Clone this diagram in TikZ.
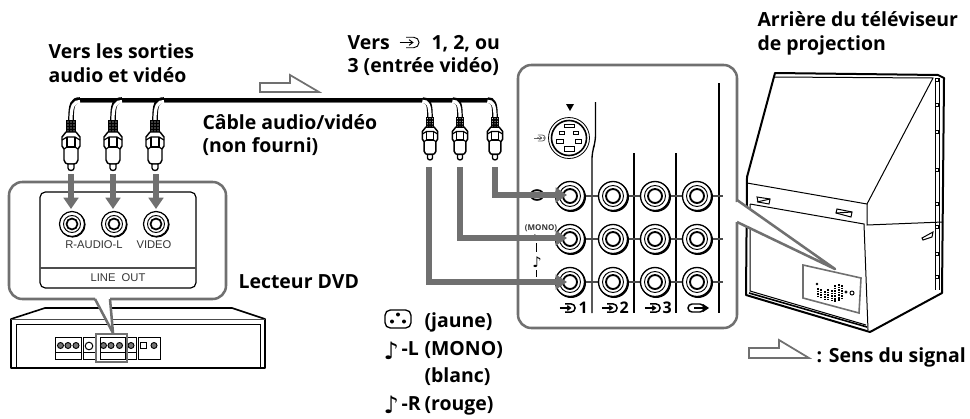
\documentclass[tikz,border=0pt]{standalone}
\usepackage{fontspec}
\setmainfont{Open Sans}
\newfontfamily\panelfont{Liberation Sans}
\newfontfamily\notefont{DejaVu Sans}
\usetikzlibrary{arrows.meta}

\definecolor{sigcol}{RGB}{112,112,112}
\tikzset{every picture/.style={line width=0.75pt}}
\tikzset{
  lbl/.style={font=\fontsize{14.6}{16}\selectfont\bfseries, inner sep=0pt, anchor=base west},
  notelbl/.style={font=\notefont\bfseries\fontsize{18}{20}\selectfont, inner sep=0pt, anchor=base west},
  paneltxt/.style={font=\panelfont\fontsize{8.4}{10}\selectfont, inner sep=0pt, text=black!80},
  tiny/.style={font=\fontsize{6}{7}\selectfont\bfseries, inner sep=0pt, text=black!80},
  numtxt/.style={font=\fontsize{12}{14}\selectfont\bfseries, inner sep=0pt, anchor=base west},
  callout/.style={draw=sigcol, line width=1.9pt, line join=round},
  sigflow/.style={draw=sigcol, line width=1.3pt, line join=miter},
  conn/.style={draw=sigcol, line width=4.4pt, -{Triangle[length=8.5pt,width=11pt]}, sigcol},
  pics/jack/.style={code={
    \fill (1,1) circle (15);
    \draw[fill=white, line width=1pt] (0,0) circle (14.5);
    \draw[line width=.7pt] (0,0) circle (10.5);
    \draw[line width=1.4pt] (0,0) circle (7);
  }},
  pics/smalljack/.style={code={
    \fill (.6,.6) circle (13);
    \draw[fill=white, line width=.9pt] (0,0) circle (12.5);
    \draw[line width=.7pt] (0,0) circle (8.5);
    \draw[line width=1.3pt] (0,0) circle (5.5);
  }},
  pics/inicon/.style={code={
    \draw (-4,-5.5) -- (4,-5.5) arc (-90:90:5.5) -- (-4,5.5);
    \draw (-11,0) -- (2,0);
    \draw (-1,-3) -- (3,0) -- (-1,3);
  }},
  pics/plug/.style={code={
    % cable
    \draw[line width=4.2pt] (9,0) .. controls (2,0) and (0,4) .. (0,20);
    \draw[white, line width=2.4pt] (9,1.5) .. controls (3,1.5) and (0,5) .. (0,20);
    % grip
    \fill (-5,20) rectangle (5,33);
    \foreach \gy in {22,25,28,31} {
      \fill[white] (-3,\gy) circle (.6) (0,\gy) circle (.6) (3,\gy) circle (.6);
    }
    % shoulder and body
    \draw[fill=white, line width=1.1pt, line join=round] (-5,32) -- (-9,37) -- (-9,46) -- (-7,49) -- (-7,60)
      .. controls (-7,63) and (-4,64) .. (-3,64) -- (3,64) .. controls (4,64) and (7,63) .. (7,60)
      -- (7,49) -- (9,46) -- (9,37) -- (5,32) -- cycle;
    \draw[line width=.9pt] (-9,40) -- (-4,37) -- (4,37) -- (9,40);
    \draw[line width=.9pt] (-4,37) -- (-4,47) -- (4,47) -- (4,37);
    \draw[line width=.9pt] (-7,49) -- (-4,47) (7,49) -- (4,47);
    \draw[fill=white, line width=1pt] (-3,64) -- (-3,68) arc (180:0:3 and 2.5) -- (3,64) -- cycle;
  }}
}

\begin{document}
\begin{tikzpicture}[x=0.75pt,y=0.75pt,yscale=-1,xscale=1]
\useasboundingbox (0,0) rectangle (970,418);

%Cable
\draw[sigcol, line width=.9pt] (78,102.5) -- (487,102.5);
\draw[line width=2.7pt] (76,100) -- (489,100);
\foreach \px in {71,113,155} {
  \pic[yscale=-1] at (\px,100) {plug};
}
\foreach \px in {430,460,495} {
  \pic[xscale=-.85,yscale=-.85] at (\px,100) {plug};
}

%Shape: signal arrow top
\draw[sigflow] (260,83) -- (290,83) -- (290,75) -- (319,92) -- (260,92) -- cycle;

%Callout DVD
\draw[callout, rounded corners=10] (95,299) -- (9,299) -- (9,182) -- (226,182) -- (226,299) -- (110,299);
\draw[line width=.9pt, rounded corners=4] (40,192) rectangle (196,288);
\draw[black!70, line width=1pt] (40,268) -- (196,268);
\foreach \jx in {72,114,156} {
  \pic[yscale=-1] at (\jx,224) {smalljack};
}
% Text Node
\node[paneltxt] (raudiol) at (94,245) {R-AUDIO-L};
\node[paneltxt] (videolbl) at (154,245) {VIDEO};
\node[paneltxt] (lineout) at (118,278) {LINE\ \ OUT};

%DVD player
\draw[line width=1.2pt, line join=round] (11,368) -- (11,319) -- (45,308) -- (232,308) -- (265,319) -- (265,368) -- cycle;
\draw[black!70] (11,319) -- (265,319);
\draw (16,368) -- (16,324) -- (260,324) -- (260,368);
\draw[fill=white] (55,337) rectangle (81,359);
\draw (55,352) -- (81,352);
\draw[fill=white] (83,337) rectangle (95,359);
\draw (83,352) -- (95,352);
\draw[fill=white] (100,337) rectangle (125,359);
\draw (100,352) -- (125,352);
\draw[fill=white] (127,337) rectangle (136,359);
\draw (127,352) -- (136,352);
\draw[fill=white] (138,337) rectangle (160,359);
\foreach \dx in {60.5,68,76,103.5,111,119.5,131,154} {
  \draw[fill=black!55, line width=.7pt] (\dx,345.5) circle (3);
}
\draw[fill=white] (89,346) circle (3.8);
\draw (140.5,342.5) rectangle (146.5,348.5);
\draw[callout, fill=white] (95,299) -- (113,333) -- (110,299);
\draw[draw=sigcol, line width=1.5pt] (95.5,334) rectangle (127,362);

%Connector DVD arrows
\coordinate (plugA) at (71,174);
\coordinate (plugB) at (113,174);
\coordinate (plugC) at (156,174);
\coordinate (dvdA) at (71,209);
\coordinate (dvdB) at (113,209);
\coordinate (dvdC) at (156,209);
\draw[conn] (plugA) -- (dvdA);
\draw[conn] (plugB) -- (dvdB);
\draw[conn] (plugC) -- (dvdC);

%Callout panel
\draw[callout, rounded corners=10] (737,202) -- (737,65) -- (518,65) -- (518,328) -- (737,328) -- (737,222);

%Panel lines
\draw[line width=1pt, rounded corners=5] (595.5,102) -- (595.5,142) -- (592,152) -- (592,313);
\draw[line width=1pt] (634,153) -- (634,313);
\draw[line width=1pt] (676,153) -- (676,313);
\draw[line width=1pt] (719,83) -- (719,313);
\foreach \ry in {196,239,282} {
  \draw[black!70, line width=.9pt] (585,\ry) -- (723,\ry);
}
\foreach \jy in {196,239,282} {
  \foreach \jx in {570,613,655,697} {
    \pic[yscale=-1] at (\jx,\jy) {jack};
  }
}

%S-video
\draw[line width=.6pt] (569,138) circle (20.5);
\draw[line width=1.2pt] (569,138) circle (17.5);
\draw[line width=.7pt] (564.5,124) rectangle (574,127);
\draw[line width=.7pt] (559,131) rectangle (564.5,134.5);
\draw[line width=.7pt] (573,131) rectangle (578.5,134.5);
\draw[line width=.7pt] (556.5,139) rectangle (563.5,143);
\draw[line width=.7pt] (575,139) rectangle (581.5,143);
\draw[line width=.7pt] (564,146) rectangle (574,151);
\fill (566,104) -- (574,104) -- (570,111) -- cycle;
\pic[black!60, yscale=-1, scale=.55, line width=.6pt] at (540,138) {inicon};
\fill[black!70] (538,138) circle (.8) (541,138) circle (.8) (544,138) circle (.8);

%Left of jacks
\draw[line width=1.2pt, fill=black!25] (537,195) ellipse (6.5 and 5);
\node[tiny] (mono) at (541,228) {(MONO)};
\node[tiny] (leftl) at (536,238) {L};
\node[tiny] (rightr) at (536,283) {R};
\node[font=\notefont\fontsize{11}{12}\selectfont, inner sep=0pt] (midnote) at (537,262) {♪};
\draw (536,243) -- (536,252) (536,270) -- (536,277);

%Connector panel arrows
\coordinate (plugD) at (495,167);
\coordinate (plugE) at (460,167);
\coordinate (plugF) at (429,167);
\coordinate (jackD) at (567,195);
\coordinate (jackE) at (567,238);
\coordinate (jackF) at (567,282);
\draw[conn] (plugD) |- (jackD);
\draw[conn] (plugE) |- (jackE);
\draw[conn] (plugF) |- (jackF);

%Bottom of panel
\pic[line width=1.1pt, scale=.75] at (568,308) {inicon};
\node[numtxt] (inA) at (578,313) {1};
\pic[line width=1.1pt, scale=.75] at (610,308) {inicon};
\node[numtxt] (inB) at (619,313) {2};
\pic[line width=1.1pt, scale=.75] at (653,308) {inicon};
\node[numtxt] (inC) at (662,313) {3};
\draw[line width=1.1pt] (692,304) -- (700,304) arc (-90:90:4) -- (692,312) arc (90:270:4);
\draw[line width=1.1pt] (694,308) -- (704,308);
\fill (703,304) -- (709,308) -- (703,312) -- cycle;

%TV
\draw[line width=1.5pt, line join=round] (775,73) -- (938,75) -- (944,78) -- (942,293) -- (870,332) -- (746,295) -- (747,177) -- cycle;
\draw (773,77) -- (933,78) -- (867,204) -- (747,183);
\draw (867,204) -- (867,225) -- (943,222);
\draw (750,204) -- (864,224) -- (868,330);
\draw (750,204) -- (750,291) -- (866,325);
\draw[line width=1.2pt] (749,293) -- (867,327);
\draw (935,78) -- (935,290);
\draw (939,78) -- (939,290);
\foreach \sy in {80,105,132,170,204,227,254,277} {
  \draw[fill=white, line width=.6pt] (935.5,\sy-1.5) rectangle (938.5,\sy+1.5);
}
\draw (757,197) -- (770,199) -- (769,204) -- (758,202) -- cycle;
\draw (757,202) -- (770,199);
\draw (837,209) -- (852,212) -- (851,217) -- (836,213) -- cycle;
\draw (836,213) -- (852,212);
\draw (922,238) -- (933,232) -- (932,237) -- (923,240) -- cycle;
\draw[draw=sigcol, line width=1.2pt] (803,265) -- (861,278) -- (859,313) -- (803,298) -- cycle;
\foreach \cx/\ya/\yb in {818/288/296,821/289/297,825/291/299,828/289/300,832/290/301,835/285/302,839/284/301,842/285/298} {
  \draw[line width=2pt, dash pattern=on 1.4pt off .5pt] (\cx,\ya) -- (\cx,\yb);
}
\fill (817,284) circle (1.4);
\draw[fill=black!40, line width=.5pt] (846,292) circle (1.2);
\draw[line width=.7pt] (852,293) circle (2);

%Callout to TV
\fill[white] (737,200) -- (835,269) -- (737,222) -- cycle;
\draw[callout] (737,200) -- (835,269) -- (737,222);

%Signal arrow bottom
\draw[sigflow] (749,348) -- (779,348) -- (779,340) -- (809,358) -- (749,358) -- cycle;

% Text Node
\node[lbl] (sorties) at (48,58) {Vers les sorties};
\node[lbl] (audiovideo) at (48,82) {audio et vidéo};
\node[lbl] (cable) at (202,129) {Câble audio/vidéo};
\node[lbl] (nonfourni) at (202,152) {(non fourni)};
\node[lbl] (vers) at (347,49) {Vers};
\pic[line width=.7pt, scale=.95] at (410,42.5) {inicon};
\node[lbl] (entrees) at (431,49) {1, 2, ou};
\node[lbl] (entreevideo) at (347,72) {3 (entrée vidéo)};
\node[lbl] (arriere) at (757,26) {Arrière du téléviseur};
\node[lbl] (projection) at (757,50) {de projection};
\node[lbl] (lecteur) at (238,288) {Lecteur DVD};
\node[lbl] (sens) at (816,362) {: Sens du signal};

%Legend
\draw[line width=1pt, rounded corners=4] (385,310) rectangle (411,328);
\fill (398,314.5) circle (2) (392,321.5) circle (2) (404,321.5) circle (2);
\node[lbl] (jaune) at (424,327) {(jaune)};
\node[notelbl] (noteL) at (383,359) {♪};
\node[lbl] (legL) at (401,355) {-L};
\node[lbl] (legmono) at (424,355) {(MONO)};
\node[lbl] (blanc) at (424,382) {(blanc)};
\node[notelbl] (noteR) at (383,413) {♪};
\node[lbl] (legR) at (401,410) {-R};
\node[lbl] (rouge) at (424,410) {(rouge)};

\end{tikzpicture}
\end{document}
